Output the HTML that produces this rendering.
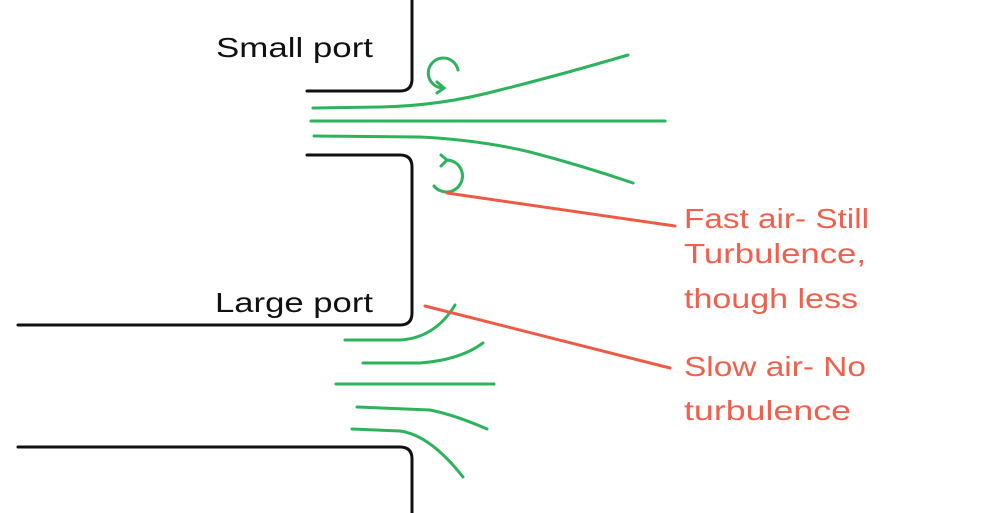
<!DOCTYPE html>
<html><head><style>
html,body{margin:0;padding:0;background:#fff;width:1008px;height:513px;overflow:hidden}
svg{display:block}
text{font-family:"Liberation Sans",sans-serif}
</style></head><body>
<svg width="1008" height="513" viewBox="0 0 1008 513" xmlns="http://www.w3.org/2000/svg">
<g fill="none" stroke="#111" stroke-width="3" stroke-linecap="round">
<path d="M412 0 V79 Q412 91 400 91 H307"/>
<path d="M307 155 H400 Q412 155 412 167 V313 Q412 325 400 325 H18"/>
<path d="M18 447 H400 Q412 447 412 459 V513"/>
</g>
<g fill="none" stroke="#2db35d" stroke-width="3" stroke-linecap="round">
<path d="M313 108 L380 107 Q440 106 500 90 Q560 75 628 55"/>
<path d="M311 121 H665"/>
<path d="M314 136 L420 137 Q480 140 530 152 Q580 165 633 183"/>
<path d="M458 70 A15 15 0 1 0 443 88"/>
<path d="M437 82 L444 88 L437 93"/>
<path d="M434 186 A16 16 0 1 0 447 160"/>
<path d="M441 155 L447 160 L441 166"/>
<path d="M345 340 L400 340 Q435 338 455 305"/>
<path d="M363 363 L420 363 Q460 360 483 343"/>
<path d="M336 384 H494"/>
<path d="M357 407 L430 410 Q455 415 487 429"/>
<path d="M352 429 L400 431 Q430 435 463 477"/>
</g>
<g stroke="#ee5a45" stroke-width="3" stroke-linecap="round">
<line x1="447" y1="193" x2="675" y2="226"/>
<line x1="425" y1="306" x2="670" y2="368"/>
</g>
<g font-size="28" fill="#111">
<text x="216" y="57" textLength="157" lengthAdjust="spacingAndGlyphs">Small port</text>
<text x="215" y="312" textLength="158" lengthAdjust="spacingAndGlyphs">Large port</text>
</g>
<g font-size="28" fill="#f0604d">
<text x="684" y="228" textLength="185" lengthAdjust="spacingAndGlyphs">Fast air- Still</text>
<text x="684" y="263" textLength="182" lengthAdjust="spacingAndGlyphs">Turbulence,</text>
<text x="684" y="308" textLength="174" lengthAdjust="spacingAndGlyphs">though less</text>
<text x="684" y="376" textLength="182" lengthAdjust="spacingAndGlyphs">Slow air- No</text>
<text x="684" y="420" textLength="167" lengthAdjust="spacingAndGlyphs">turbulence</text>
</g>
</svg>
</body></html>
